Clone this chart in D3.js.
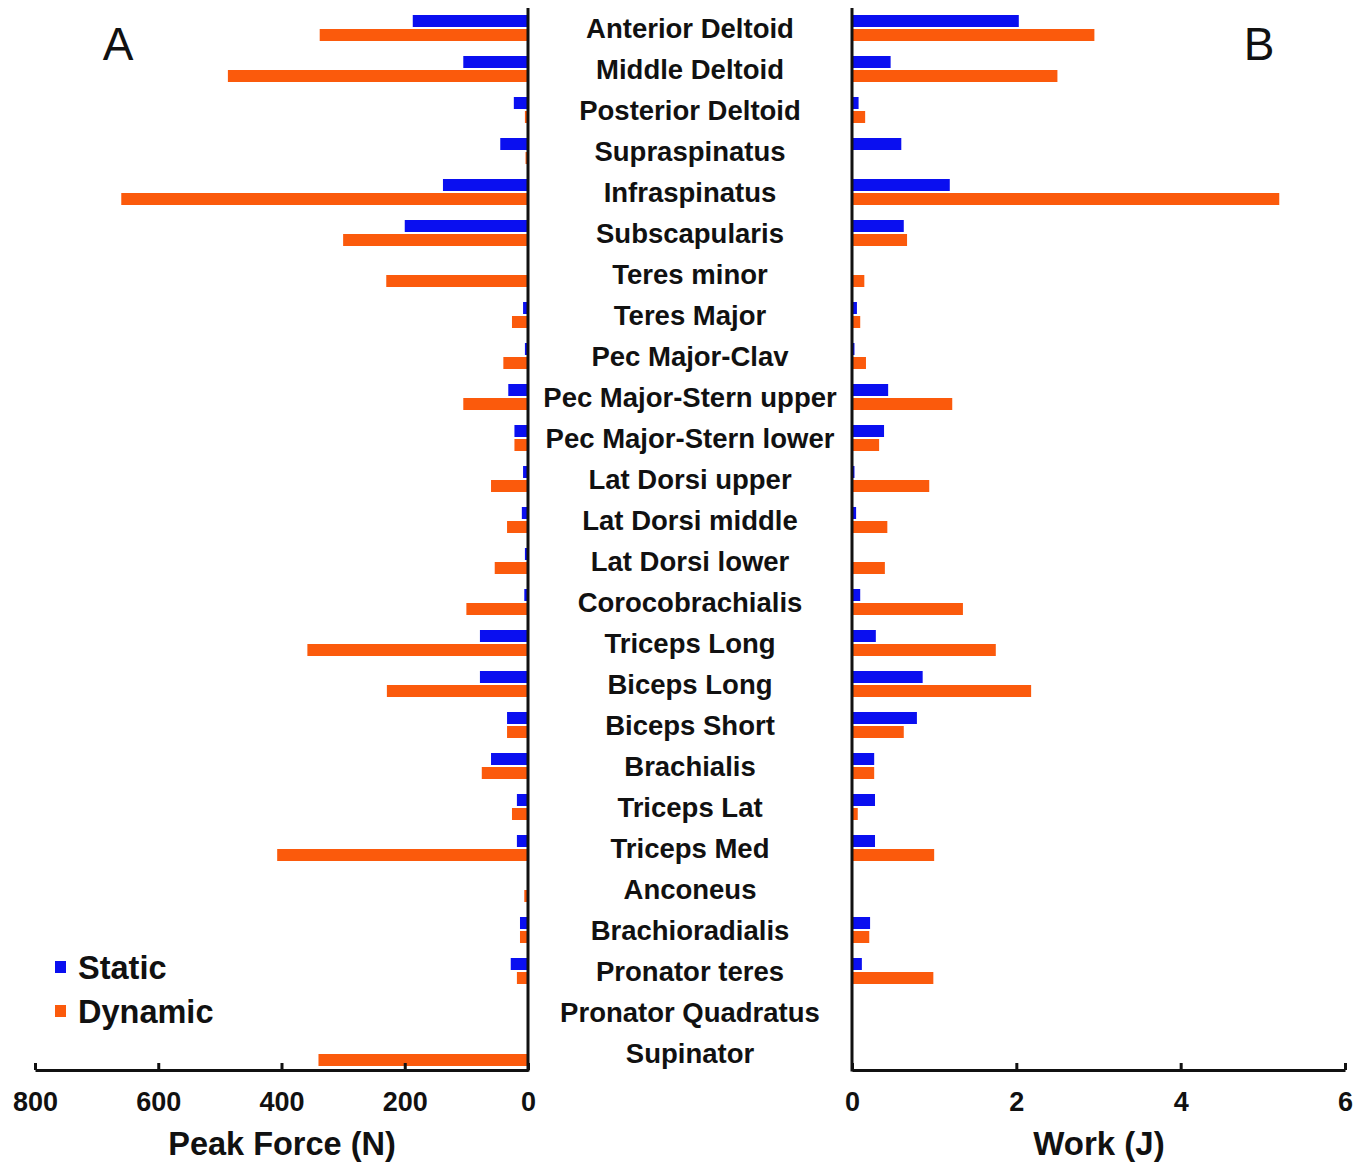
<!DOCTYPE html>
<html>
<head>
<meta charset="utf-8">
<script src="https://cdn.jsdelivr.net/npm/d3@7"></script>
<style>
  body { margin: 0; background: #fff; }
  svg { display: block; font-family: "Liberation Sans", Arial, sans-serif; }
</style>
</head>
<body>
<svg id="chart" width="1370" height="1165"></svg>
<script>
// muscles, top to bottom
const muscles = ["Anterior Deltoid", "Middle Deltoid", "Posterior Deltoid", "Supraspinatus", "Infraspinatus",
  "Subscapularis", "Teres minor", "Teres Major", "Pec Major-Clav", "Pec Major-Stern upper",
  "Pec Major-Stern lower", "Lat Dorsi upper", "Lat Dorsi middle", "Lat Dorsi lower", "Corocobrachialis",
  "Triceps Long", "Biceps Long", "Biceps Short", "Brachialis", "Triceps Lat",
  "Triceps Med", "Anconeus", "Brachioradialis", "Pronator teres", "Pronator Quadratus", "Supinator"];

// peak force (N)
const forceStatic  = [187, 105, 23, 45, 138, 200, 0, 8, 5, 32, 22, 8, 10, 5, 6, 78, 78, 34, 60, 18, 18, 0, 13, 28, 0, 0];
const forceDynamic = [338, 487, 5, 4, 660, 300, 230, 26, 40, 105, 22, 60, 34, 54, 100, 358, 229, 34, 75, 26, 407, 6, 13, 18, 0, 340];

// work (J)
const workStatic  = [2.03, 0.47, 0.08, 0.6, 1.19, 0.63, 0, 0.06, 0.03, 0.44, 0.39, 0.03, 0.05, 0, 0.1, 0.29, 0.86, 0.79, 0.27, 0.28, 0.28, 0, 0.22, 0.12, 0, 0];
const workDynamic = [2.95, 2.5, 0.16, 0, 5.2, 0.67, 0.15, 0.1, 0.17, 1.22, 0.33, 0.94, 0.43, 0.4, 1.35, 1.75, 2.18, 0.63, 0.27, 0.07, 1.0, 0, 0.21, 0.99, 0, 0];

const forceTicks = [800, 600, 400, 200, 0];
const workTicks = [0, 2, 4, 6];

const BLUE = "#0a0ff0", ORANGE = "#fb5a0c";

const svg = d3.select("#chart");
const axisY = 1070;

const y = d3.scaleBand().domain(muscles).range([7.5, 1073.5]);
const xF = d3.scaleLinear().domain([0, 800]).range([528, 35]);
const xW = d3.scaleLinear().domain([0, 6]).range([852, 1345]);

const barH = 12;
const yc = m => y(m) + y.bandwidth() / 2;

function drawBars(x, vals, color, offset) {
  svg.append("g").selectAll("rect")
    .data(muscles)
    .join("rect")
    .attr("x", (m, i) => Math.min(x(0), x(vals[i])))
    .attr("width", (m, i) => Math.abs(x(vals[i]) - x(0)))
    .attr("y", m => yc(m) + offset)
    .attr("height", barH)
    .attr("fill", color);
}

drawBars(xF, forceStatic, BLUE, -13);
drawBars(xF, forceDynamic, ORANGE, 1);
drawBars(xW, workStatic, BLUE, -13);
drawBars(xW, workDynamic, ORANGE, 1);

// axes
function drawAxis(x, ticks) {
  const g = svg.append("g").attr("transform", `translate(0,${axisY})`)
    .call(d3.axisBottom(x).tickValues(ticks).tickFormat(d3.format("d"))
      .tickSizeInner(-7).tickSizeOuter(0).tickPadding(22));
  g.select(".domain").attr("stroke", "#111").attr("stroke-width", 3);
  g.selectAll(".tick line").attr("stroke", "#111").attr("stroke-width", 3);
  g.selectAll(".tick text").attr("font-size", 27).attr("font-weight", "bold").attr("fill", "#111")
    .attr("font-family", "'Liberation Sans', Arial, sans-serif");
}
drawAxis(xF, forceTicks);
drawAxis(xW, workTicks);

// vertical baselines
[xF(0), xW(0)].forEach(px => {
  svg.append("line").attr("x1", px).attr("x2", px).attr("y1", 8).attr("y2", axisY + 1.5)
    .attr("stroke", "#111").attr("stroke-width", 3);
});

// muscle labels
svg.append("g").selectAll("text")
  .data(muscles)
  .join("text")
  .attr("x", 690)
  .attr("y", m => yc(m))
  .attr("dy", "0.36em")
  .attr("text-anchor", "middle")
  .attr("font-size", 27.5)
  .attr("font-weight", "bold")
  .attr("fill", "#111")
  .text(m => m);

// axis titles
svg.append("text").attr("x", 282).attr("y", 1155).attr("text-anchor", "middle")
  .attr("font-size", 32.5).attr("font-weight", "bold").attr("fill", "#111").text("Peak Force (N)");
svg.append("text").attr("x", 1099).attr("y", 1155).attr("text-anchor", "middle")
  .attr("font-size", 33).attr("font-weight", "bold").attr("fill", "#111").text("Work (J)");

// panel letters
svg.append("text").attr("x", 118).attr("y", 60).attr("text-anchor", "middle")
  .attr("font-size", 46).attr("fill", "#111").text("A");
svg.append("text").attr("x", 1259).attr("y", 60).attr("text-anchor", "middle")
  .attr("font-size", 46).attr("fill", "#111").text("B");

// legend
const legend = [["Static", BLUE], ["Dynamic", ORANGE]];
legend.forEach(([name, c], i) => {
  const ly = 967 + i * 44;
  svg.append("rect").attr("x", 55).attr("y", ly - 6).attr("width", 11).attr("height", 12).attr("fill", c);
  svg.append("text").attr("x", 78).attr("y", ly).attr("dy", "0.36em")
    .attr("font-size", 32.5).attr("font-weight", "bold").attr("fill", "#111").text(name);
});
</script>
</body>
</html>
